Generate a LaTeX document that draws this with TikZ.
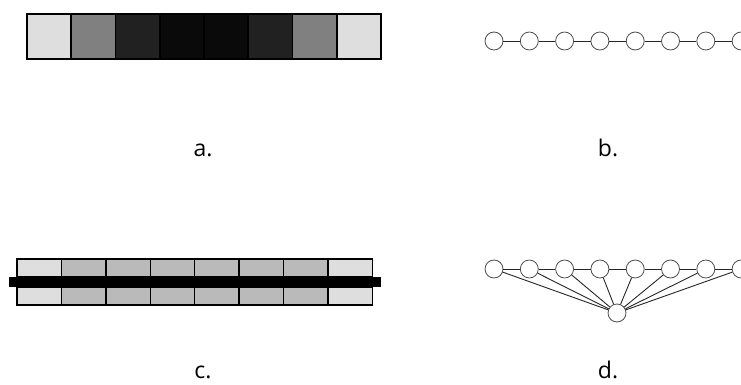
\documentclass[tikz,border=0pt]{standalone}
\usepackage{fontspec}
\setmainfont{Open Sans}
\usetikzlibrary{positioning}

\begin{document}
\begin{tikzpicture}[x=1pt,y=-1pt,thick,
  cell/.style={draw,line width=1.6pt,minimum width=44.25pt,minimum height=45pt,inner sep=0pt},
  half/.style={draw,line width=1.4pt,minimum width=44.4pt,minimum height=18pt,inner sep=0pt},
  vertex/.style={circle,draw=black!70,fill=white,line width=0.8pt,minimum size=18pt,inner sep=0pt},
  link/.style={draw=black!85,line width=0.9pt},
  tag/.style={anchor=base,font=\fontsize{23}{26}\selectfont,inner sep=0pt}]

  \useasboundingbox (0,0) rectangle (741,385);

  % a. grey cells
  \foreach \g [count=\i] in {87,50,13,4,4,13,50,87}
    \node[cell,fill=white!\g!black] (a\i) at ({27+44.25*(\i-0.5)},36.5) {};

  % b. chain
  \foreach \i in {1,...,8}
    \node[vertex] (b\i) at ({494+35.3*(\i-1)},41) {};
  \foreach \i [remember=\i as \j (initially 1)] in {2,...,8}
    \path[link] (b\j) -- (b\i);

  % c. two rows and the bar
  \foreach \g [count=\i] in {87,73,73,73,73,73,73,87} {
    \node[half,fill=white!\g!black] (ct\i) at ({17+44.4*(\i-0.5)},268) {};
    \node[half,fill=white!\g!black] (cb\i) at ({17+44.4*(\i-0.5)},296) {};
  }
  \node[fill=black,minimum width=372pt,minimum height=10pt,inner sep=0pt] (bar) at (195,282) {};

  % d. chain with hub
  \foreach \i in {1,...,8}
    \node[vertex] (d\i) at ({494+35.3*(\i-1)},269) {};
  \node[vertex] (d0) at (617,313) {};
  \foreach \i [remember=\i as \j (initially 1)] in {2,...,8}
    \path[link] (d\j) -- (d\i);
  \foreach \i in {1,...,8}
    \path[link] (d\i) -- (d0);

  \node[tag] (la) at (203,156) {a.};
  \node[tag] (lb) at (608,156) {b.};
  \node[tag] (lc) at (203,378) {c.};
  \node[tag] (ld) at (608,378) {d.};
\end{tikzpicture}
\end{document}
